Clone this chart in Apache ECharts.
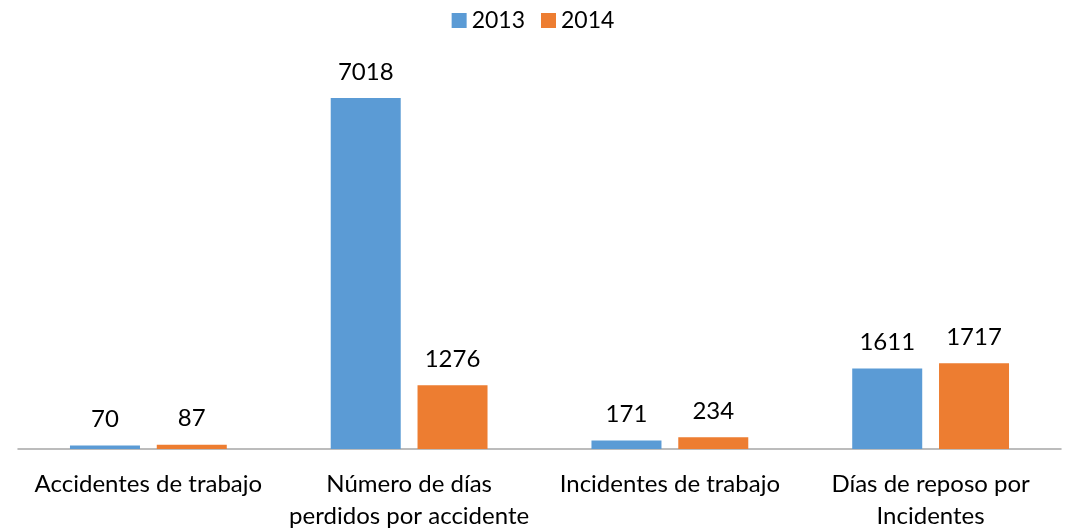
<!DOCTYPE html>
<html>
<head>
<meta charset="utf-8">
<script src="https://cdn.jsdelivr.net/npm/echarts@6/dist/echarts.min.js"></script>
<style>
  html, body { margin: 0; padding: 0; background: #fff; }
  #chart { width: 1066px; height: 532px; }
</style>
</head>
<body>
<div id="chart"></div>
<script>
const categories = [
  "Accidentes de trabajo",
  "Número de días\nperdidos por accidente",
  "Incidentes de trabajo",
  "Días de reposo por\nIncidentes"
];
const values2013 = [70, 7018, 171, 1611];
const values2014 = [87, 1276, 234, 1717];

const myChart = echarts.init(document.getElementById("chart"));
const font = "Lato, 'Open Sans', sans-serif";

// etiqueta encima de cada barra
const barLabel = {
  show: true,
  position: "top",
  distance: 14,
  color: "#000",
  fontSize: 24,
  fontFamily: font
};

const option = {
  animation: false,
  color: ["#5B9BD5", "#ED7D31"],
  legend: {
    top: 4,
    left: "center",
    itemWidth: 15,
    itemHeight: 15,
    itemGap: 16,
    icon: "rect",
    textStyle: { fontSize: 23, fontFamily: font, color: "#000" },
    data: ["2013", "2014"]
  },
  grid: {
    left: 18,
    right: 5,
    top: 49,
    bottom: 82
  },
  xAxis: {
    type: "category",
    data: categories,
    axisTick: { show: false },
    axisLine: { lineStyle: { color: "#A6A6A6", width: 1.5 } },
    axisLabel: {
      margin: 19,
      interval: 0,
      color: "#000",
      fontSize: 24,
      lineHeight: 32,
      fontFamily: font
    }
  },
  yAxis: {
    type: "value",
    min: 0,
    max: 8000,
    show: false,
    splitLine: { show: false }
  },
  series: [
    {
      name: "2013",
      type: "bar",
      data: values2013,
      barWidth: 70,
      barGap: "24%",
      label: barLabel
    },
    {
      name: "2014",
      type: "bar",
      data: values2014,
      barWidth: 70,
      label: barLabel
    }
  ]
};
myChart.setOption(option);
</script>
</body>
</html>
